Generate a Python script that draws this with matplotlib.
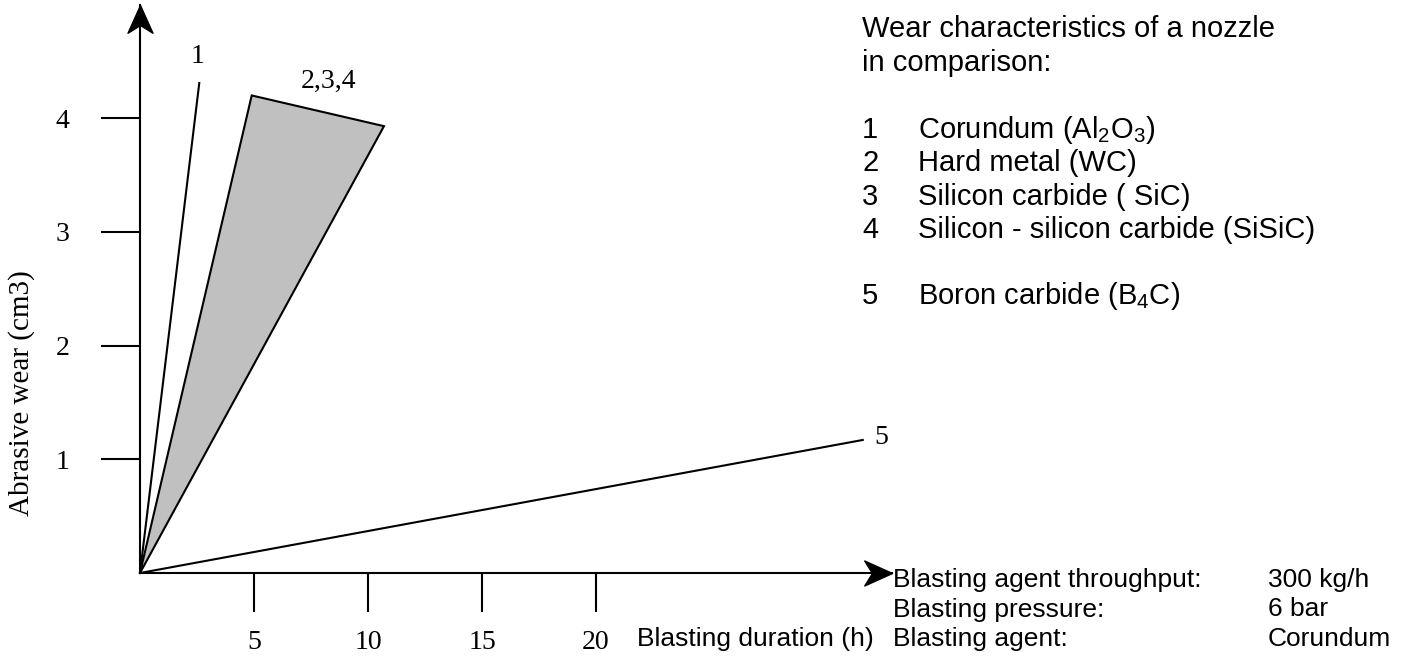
import numpy as np
import matplotlib
matplotlib.use("Agg")
import matplotlib.pyplot as plt
from matplotlib.path import Path

# data
x_ticks = [5, 10, 15, 20]
y_ticks = [1, 2, 3, 4]

corundum_x = [0, 2.6]
corundum_y = [0, 4.31]

band_x = [0, 4.9, 10.7]      # hard metal / SiC / SiSiC band
band_y = [0, 4.2, 3.93]

boron_x = [0, 31.7]
boron_y = [0, 1.17]

legend_nums = ['1', '2', '3', '4', '', '5']
legend_names = [r'Corundum (Al$_\mathregular{2}$O$_\mathregular{3}$)',
                'Hard metal (WC)',
                'Silicon carbide ( SiC)',
                'Silicon - silicon carbide (SiSiC)',
                '',
                r'Boron carbide (B$_\mathregular{4}$C)']

cond_names = ['Blasting agent throughput:', 'Blasting pressure:', 'Blasting agent:']
cond_values = ['300 kg/h', '6 bar', 'Corundum']

plt.rcParams['mathtext.fontset'] = 'custom'
plt.rcParams['mathtext.rm'] = 'Liberation Sans'

W, H = 1409, 658
fig = plt.figure(figsize=(W / 100, H / 100), dpi=100)

ox, oy = 140, 573
xmax, ymax = 33.0, 5.0
ppx, ppy = 22.8, 113.7
ax = fig.add_axes([ox / W, (H - oy) / H, xmax * ppx / W, ymax * ppy / H])
ax.set_xlim(0, xmax)
ax.set_ylim(0, ymax)

serif = 'Liberation Serif'
sans = 'Liberation Sans'

for s in ['top', 'right']:
    ax.spines[s].set_visible(False)
for s in ['left', 'bottom']:
    ax.spines[s].set_linewidth(1.5)

ax.set_xticks(x_ticks)
ax.set_yticks(y_ticks)
ax.set_xticklabels([str(v) for v in x_ticks], family=serif, fontsize=20)
ax.set_yticklabels([str(v) for v in y_ticks], family=serif, fontsize=20)
ax.tick_params(axis='x', direction='out', length=28, width=1.5, pad=13)
ax.tick_params(axis='y', direction='out', length=28, width=1.5, pad=23)

# arrow heads at the axis ends
head = Path([(0, 0), (-0.45, -1), (0, -0.72), (0.45, -1), (0, 0)],
            [Path.MOVETO, Path.LINETO, Path.LINETO, Path.LINETO, Path.CLOSEPOLY])
head_r = Path([(0, 0), (-1, 0.45), (-0.72, 0), (-1, -0.45), (0, 0)],
              [Path.MOVETO, Path.LINETO, Path.LINETO, Path.LINETO, Path.CLOSEPOLY])
ax.plot([0], [ymax], marker=head, markersize=40, color='black', clip_on=False)
ax.plot([xmax], [0], marker=head_r, markersize=40, color='black', clip_on=False)

ax.plot(corundum_x, corundum_y, color='black', lw=1.5, clip_on=False)
ax.fill(band_x, band_y, facecolor='#c0c0c0', edgecolor='black', lw=1.5, clip_on=False)
ax.plot(boron_x, boron_y, color='black', lw=1.5, clip_on=False)

ax.text(2.54, 4.54, '1', family=serif, fontsize=20, ha='center', va='center')
ax.text(8.25, 4.32, '2,3,4', family=serif, fontsize=20, ha='center', va='center')
ax.text(32.5, 1.19, '5', family=serif, fontsize=20, ha='center', va='center')

fig.text(22 / W, 1 - 393 / H, 'Abrasive wear (cm3)', family=serif, fontsize=21,
         rotation=90, ha='center', va='center')
fig.text(637 / W, 1 - 646 / H, 'Blasting duration (h)', family=sans, fontsize=19,
         ha='left', va='baseline')

fig.text(862 / W, 1 - 37 / H, 'Wear characteristics of a nozzle', family=sans,
         fontsize=21, ha='left', va='baseline')
fig.text(862 / W, 1 - 71 / H, 'in comparison:', family=sans,
         fontsize=21, ha='left', va='baseline')
for i, (n, name) in enumerate(zip(legend_nums, legend_names)):
    yb = 138 + i * 33.3
    fig.text(862 / W, 1 - yb / H, n, family=sans, fontsize=21, ha='left', va='baseline')
    fig.text(918 / W, 1 - yb / H, name, family=sans, fontsize=21, ha='left', va='baseline')

for i, (n, v) in enumerate(zip(cond_names, cond_values)):
    yb = 587 + i * 29.5
    fig.text(893 / W, 1 - yb / H, n, family=sans, fontsize=19, ha='left', va='baseline')
    fig.text(1268 / W, 1 - yb / H, v, family=sans, fontsize=19, ha='left', va='baseline')

fig.savefig('out.png', dpi=100)
